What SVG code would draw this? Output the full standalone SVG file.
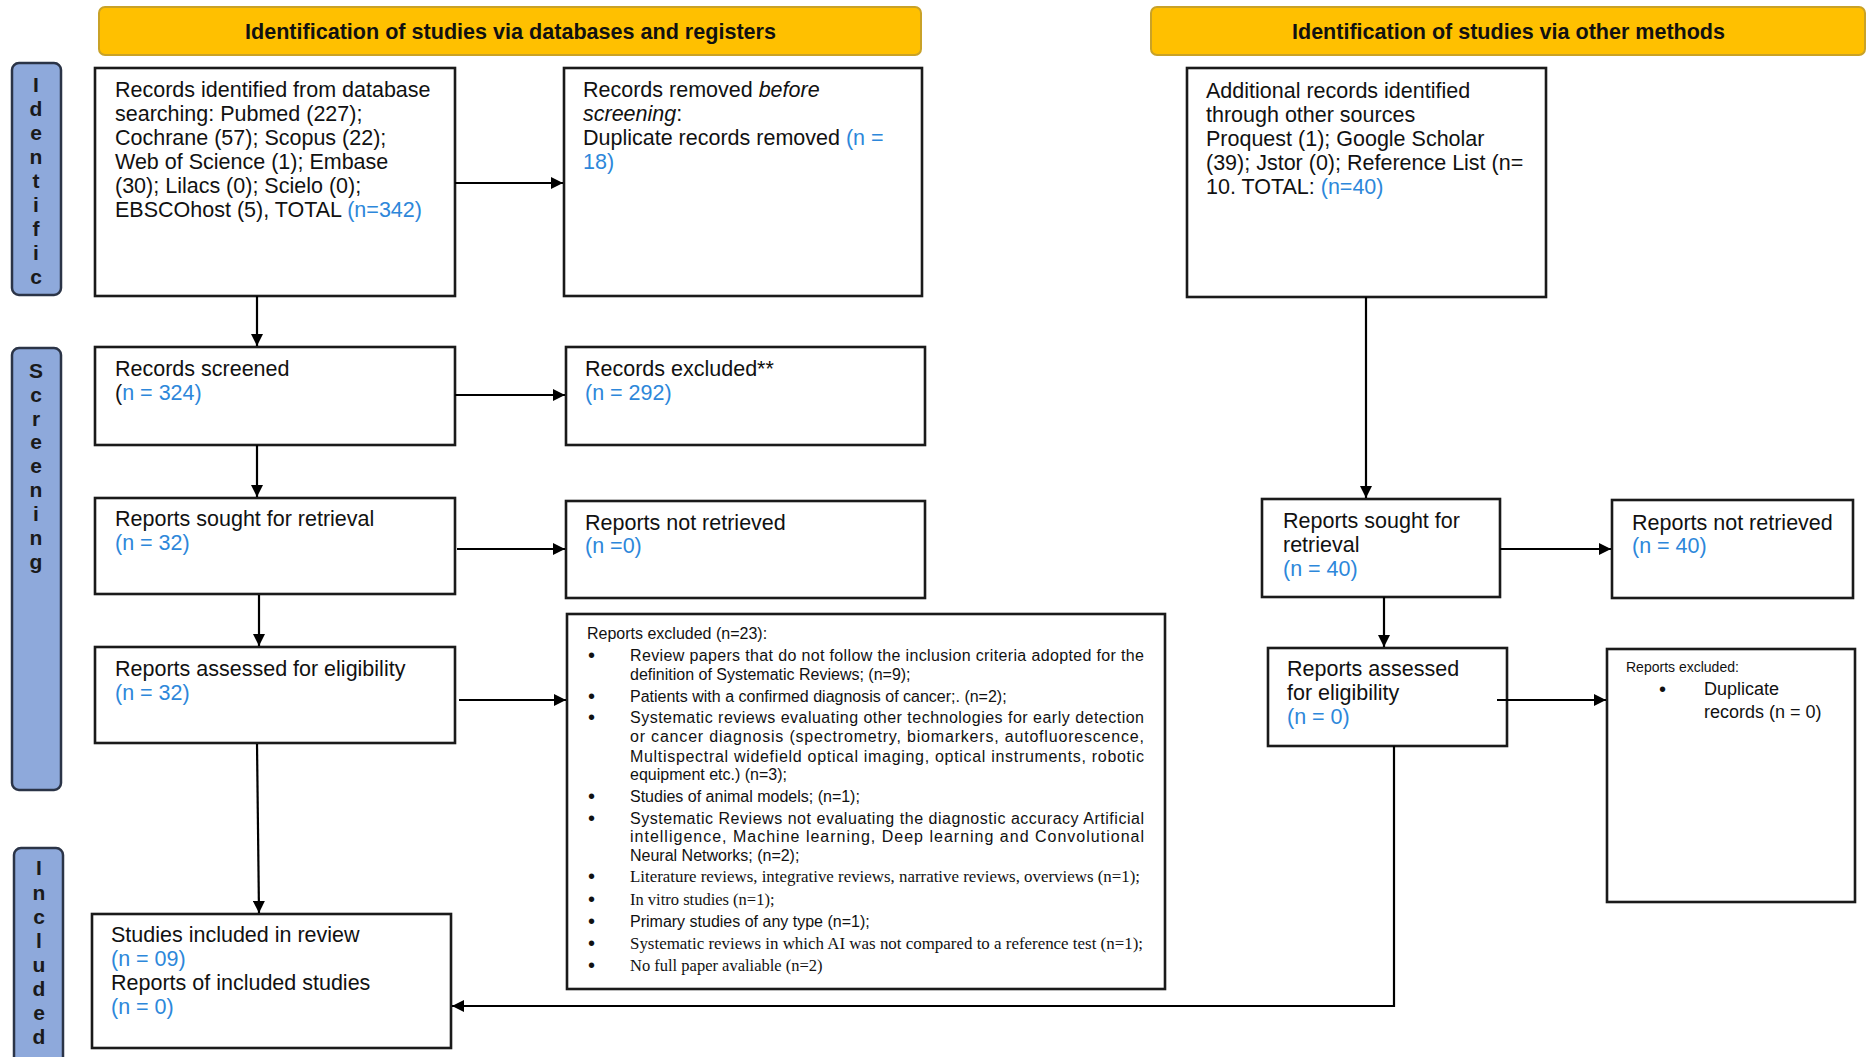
<svg xmlns="http://www.w3.org/2000/svg" width="1871" height="1057" viewBox="0 0 1871 1057">
<defs>
<marker id="ah" viewBox="0 0 10 10" refX="10" refY="5" markerWidth="14" markerHeight="12" markerUnits="userSpaceOnUse" orient="auto"><path d="M0,0 L10,5 L0,10 z" fill="#000"/></marker>
<style>
.box{fill:#fff;stroke:#1a1a1a;stroke-width:2.6}
.ban{fill:#FFC000;stroke:#C9A227;stroke-width:2}
.side{fill:#8EA9DB;stroke:#2B3447;stroke-width:2.5}
.t{font-family:"Liberation Sans",Arial,sans-serif;font-size:21.5px;fill:#111}
.bt{font-family:"Liberation Sans",Arial,sans-serif;font-size:22px;font-weight:bold;fill:#111}
.sl{font-family:"Liberation Sans",Arial,sans-serif;font-size:21px;font-weight:bold;fill:#1a1a1a;text-anchor:middle}
.s{font-family:"Liberation Sans",Arial,sans-serif;font-size:16px;fill:#111}
.bu{font-family:"Liberation Sans",Arial,sans-serif;font-size:20px;fill:#111}
.sr{font-family:"Liberation Serif","Times New Roman",serif;font-size:16.5px;fill:#111}
.sm{font-family:"Liberation Sans",Arial,sans-serif;font-size:14px;fill:#111}
.dp{font-family:"Liberation Sans",Arial,sans-serif;font-size:18px;fill:#111}
.b{fill:#2D87DA}
.cn{fill:none;stroke:#000;stroke-width:2.2;marker-end:url(#ah)}
</style>
</defs>
<rect width="1871" height="1057" fill="#fff"/>

<g id="banner-db"><rect class="ban" x="99" y="7" width="822" height="48" rx="6"/><text class="bt" x="245" y="39" textLength="531" lengthAdjust="spacingAndGlyphs">Identification of studies via databases and registers</text></g>
<g id="banner-other"><rect class="ban" x="1151" y="7" width="714" height="48" rx="6"/><text class="bt" x="1292" y="39" textLength="433" lengthAdjust="spacingAndGlyphs">Identification of studies via other methods</text></g>

<g id="side-identification"><rect class="side" x="12" y="63" width="49" height="232" rx="7"/>
<text class="sl" x="36" y="92">I</text><text class="sl" x="36" y="116">d</text><text class="sl" x="36" y="140">e</text><text class="sl" x="36" y="164">n</text><text class="sl" x="36" y="188">t</text><text class="sl" x="36" y="212">i</text><text class="sl" x="36" y="236">f</text><text class="sl" x="36" y="260">i</text><text class="sl" x="36" y="284">c</text></g>
<g id="side-screening"><rect class="side" x="12" y="348" width="49" height="442" rx="7"/>
<text class="sl" x="36" y="378">S</text><text class="sl" x="36" y="402">c</text><text class="sl" x="36" y="426">r</text><text class="sl" x="36" y="449">e</text><text class="sl" x="36" y="473">e</text><text class="sl" x="36" y="497">n</text><text class="sl" x="36" y="521">i</text><text class="sl" x="36" y="545">n</text><text class="sl" x="36" y="569">g</text></g>
<g id="side-included"><rect class="side" x="14" y="848" width="49" height="220" rx="7"/>
<text class="sl" x="39" y="875">I</text><text class="sl" x="39" y="900">n</text><text class="sl" x="39" y="924">c</text><text class="sl" x="39" y="948">l</text><text class="sl" x="39" y="972">u</text><text class="sl" x="39" y="996">d</text><text class="sl" x="39" y="1020">e</text><text class="sl" x="39" y="1044">d</text></g>

<g id="records-identified"><rect class="box" x="95" y="68" width="360" height="228"/>
<text class="t" x="115" y="97">Records identified from database</text>
<text class="t" x="115" y="121">searching: Pubmed (227);</text>
<text class="t" x="115" y="145">Cochrane (57); Scopus (22);</text>
<text class="t" x="115" y="169">Web of Science (1); Embase</text>
<text class="t" x="115" y="193">(30); Lilacs (0); Scielo (0);</text>
<text class="t" x="115" y="217">EBSCOhost (5), TOTAL <tspan class="b">(n=342)</tspan></text></g>

<g id="records-removed"><rect class="box" x="564" y="68" width="358" height="228"/>
<text class="t" x="583" y="97">Records removed <tspan font-style="italic">before</tspan></text>
<text class="t" x="583" y="121"><tspan font-style="italic">screening</tspan>:</text>
<text class="t" x="583" y="145">Duplicate records removed <tspan class="b">(n =</tspan></text>
<text class="t" x="583" y="169"><tspan class="b">18)</tspan></text></g>

<g id="records-screened"><rect class="box" x="95" y="347" width="360" height="98"/>
<text class="t" x="115" y="376">Records screened</text>
<text class="t" x="115" y="400">(<tspan class="b">n = 324)</tspan></text></g>

<g id="records-excluded"><rect class="box" x="566" y="347" width="359" height="98"/>
<text class="t" x="585" y="376">Records excluded**</text>
<text class="t" x="585" y="400"><tspan class="b">(n = 292)</tspan></text></g>

<g id="reports-sought"><rect class="box" x="95" y="498" width="360" height="96"/>
<text class="t" x="115" y="526">Reports sought for retrieval</text>
<text class="t" x="115" y="550"><tspan class="b">(n = 32)</tspan></text></g>

<g id="reports-not-retrieved"><rect class="box" x="566" y="501" width="359" height="97"/>
<text class="t" x="585" y="530">Reports not retrieved</text>
<text class="t" x="585" y="553"><tspan class="b">(n =0)</tspan></text></g>

<g id="reports-assessed"><rect class="box" x="95" y="647" width="360" height="96"/>
<text class="t" x="115" y="676">Reports assessed for eligibility</text>
<text class="t" x="115" y="700"><tspan class="b">(n = 32)</tspan></text></g>

<g id="reports-excluded"><rect class="box" x="567" y="614" width="598" height="375"/>
<text class="s" x="587" y="639">Reports excluded (n=23):</text>
<text class="bu" x="588" y="662">•</text><text class="s" x="630" y="661" textLength="514" lengthAdjust="spacing">Review papers that do not follow the inclusion criteria adopted for the</text>
<text class="s" x="630" y="680">definition of Systematic Reviews; (n=9);</text>
<text class="bu" x="588" y="703">•</text><text class="s" x="630" y="702">Patients with a confirmed diagnosis of cancer;. (n=2);</text>
<text class="bu" x="588" y="724">•</text><text class="s" x="630" y="723" textLength="514" lengthAdjust="spacing">Systematic reviews evaluating other technologies for early detection</text>
<text class="s" x="630" y="742" textLength="514" lengthAdjust="spacing">or cancer diagnosis (spectrometry, biomarkers, autofluorescence,</text>
<text class="s" x="630" y="762" textLength="514" lengthAdjust="spacing">Multispectral widefield optical imaging, optical instruments, robotic</text>
<text class="s" x="630" y="780">equipment etc.) (n=3);</text>
<text class="bu" x="588" y="803">•</text><text class="s" x="630" y="802">Studies of animal models; (n=1);</text>
<text class="bu" x="588" y="825">•</text><text class="s" x="630" y="824" textLength="514" lengthAdjust="spacing">Systematic Reviews not evaluating the diagnostic accuracy Artificial</text>
<text class="s" x="630" y="842" textLength="514" lengthAdjust="spacing">intelligence, Machine learning, Deep learning and Convolutional</text>
<text class="s" x="630" y="861">Neural Networks; (n=2);</text>
<text class="bu" x="588" y="883">•</text><text class="sr" x="630" y="882" textLength="510" lengthAdjust="spacingAndGlyphs">Literature reviews, integrative reviews, narrative reviews, overviews (n=1);</text>
<text class="bu" x="588" y="906">•</text><text class="sr" x="630" y="905">In vitro studies (n=1);</text>
<text class="bu" x="588" y="928">•</text><text class="s" x="630" y="927">Primary studies of any type (n=1);</text>
<text class="bu" x="588" y="950">•</text><text class="sr" x="630" y="949" textLength="513" lengthAdjust="spacingAndGlyphs">Systematic reviews in which AI was not compared to a reference test  (n=1);</text>
<text class="bu" x="588" y="972">•</text><text class="sr" x="630" y="971">No full paper avaliable (n=2)</text></g>

<g id="studies-included"><rect class="box" x="92" y="914" width="359" height="134"/>
<text class="t" x="111" y="942">Studies included in review</text>
<text class="t" x="111" y="966"><tspan class="b">(n = 09)</tspan></text>
<text class="t" x="111" y="990">Reports of included studies</text>
<text class="t" x="111" y="1014"><tspan class="b">(n = 0)</tspan></text></g>

<g id="additional-records"><rect class="box" x="1187" y="68" width="359" height="229"/>
<text class="t" x="1206" y="98">Additional records identified</text>
<text class="t" x="1206" y="122">through other sources</text>
<text class="t" x="1206" y="146">Proquest (1); Google Scholar</text>
<text class="t" x="1206" y="170">(39); Jstor (0); Reference List (n=</text>
<text class="t" x="1206" y="194">10. TOTAL: <tspan class="b">(n=40)</tspan></text></g>

<g id="other-reports-sought"><rect class="box" x="1262" y="499" width="238" height="98"/>
<text class="t" x="1283" y="528">Reports sought for</text>
<text class="t" x="1283" y="552">retrieval</text>
<text class="t" x="1283" y="576"><tspan class="b">(n = 40)</tspan></text></g>

<g id="other-reports-not-retrieved"><rect class="box" x="1612" y="500" width="241" height="98"/>
<text class="t" x="1632" y="530">Reports not retrieved</text>
<text class="t" x="1632" y="553"><tspan class="b">(n = 40)</tspan></text></g>

<g id="other-reports-assessed"><rect class="box" x="1268" y="648" width="239" height="98"/>
<text class="t" x="1287" y="676">Reports assessed</text>
<text class="t" x="1287" y="700">for eligibility</text>
<text class="t" x="1287" y="724"><tspan class="b">(n = 0)</tspan></text></g>

<g id="other-reports-excluded"><rect class="box" x="1607" y="649" width="248" height="253"/>
<text class="sm" x="1626" y="672">Reports excluded:</text>
<text class="bu" x="1659" y="696">•</text>
<text class="dp" x="1704" y="695">Duplicate</text>
<text class="dp" x="1704" y="718">records (n = 0)</text></g>

<g id="connectors">
<path class="cn" d="M257,296 V346"/>
<path class="cn" d="M455,183 H563"/>
<path class="cn" d="M455,395 H565"/>
<path class="cn" d="M257,445 V497"/>
<path class="cn" d="M457,549 H565"/>
<path class="cn" d="M259,595 V646"/>
<path class="cn" d="M459,700 H566"/>
<path class="cn" d="M257,744 L259,913"/>
<path class="cn" d="M1366,297 V498"/>
<path class="cn" d="M1500,549 H1611"/>
<path class="cn" d="M1384,597 V647"/>
<path class="cn" d="M1497,700 H1606"/>
<path class="cn" d="M1394,746 V1006 H452"/>
</g>
</svg>
